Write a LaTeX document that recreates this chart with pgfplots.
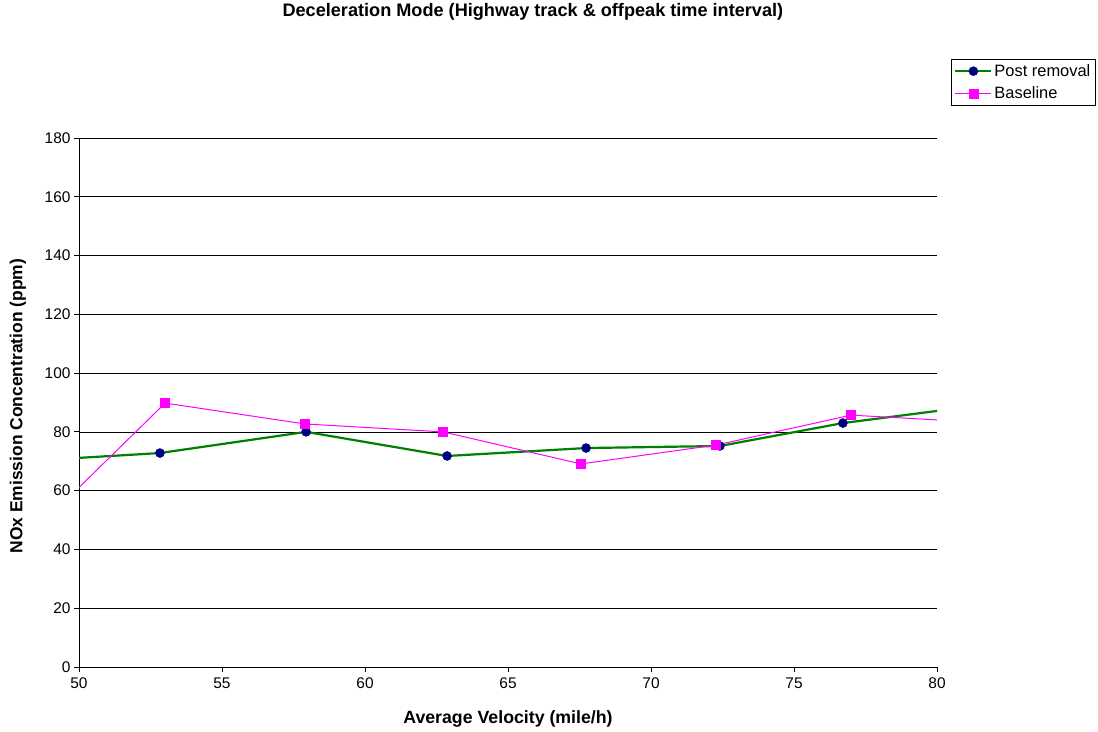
\documentclass[border=0pt]{standalone}
\usepackage{pgfplots}
\pgfplotsset{compat=1.18}
\usepackage{fontspec}
\setmainfont{Liberation Sans}
\definecolor{postgreen}{RGB}{0,128,0}
\definecolor{navymark}{RGB}{0,0,128}
\definecolor{basemag}{RGB}{255,0,255}
\begin{document}
\begin{tikzpicture}
\path[use as bounding box] (0bp,0bp) rectangle (1098bp,732bp);
\begin{axis}[
  at={(79bp,65bp)}, anchor=south west,
  scale only axis, width=858bp, height=529bp,
  xmin=50, xmax=80, ymin=0, ymax=180,
  xtick distance=5, ytick distance=20,
  axis x line*=bottom, axis y line*=left,
  axis line style={black, line width=0.8pt},
  tick align=outside, major tick length=5bp,
  tick style={black, line width=0.8pt},
  ymajorgrids, major grid style={black, line width=0.7pt},
  /pgf/number format/assume math mode=true,
  tick label style={font=\fontsize{15.5}{18}\selectfont},
  xticklabel style={yshift=-2bp},
  title={Deceleration Mode (Highway track \& offpeak time interval)},
  title style={at={(axis description cs:0.529,1.227)}, anchor=center,
    font=\fontsize{18.2}{20}\selectfont\bfseries},
  xlabel={Average Velocity (mile/h)},
  xlabel style={at={(axis description cs:0.5,-0.0983)}, anchor=center,
    font=\fontsize{17.8}{20}\selectfont\bfseries},
  ylabel={NOx Emission Concentration (ppm)},
  ylabel style={at={(axis description cs:-0.0711,0.493)}, anchor=center,
    font=\fontsize{17.5}{20}\selectfont\bfseries},
  legend style={at={(axis description cs:1.0163,1.149)}, anchor=north west,
    draw=black, line width=0.6pt, font=\fontsize{16.5}{19}\selectfont,
    inner xsep=3bp, inner ysep=3bp, row sep=5bp},
  legend cell align=left,
  legend image code/.code={
    \draw[mark repeat=2, mark phase=2] plot coordinates {(0bp,0bp) (18bp,0bp) (36bp,0bp)};},
]
% Post removal series
\addplot[postgreen, line width=2.2bp, mark=*, mark size=4.5bp,
  mark options={fill=navymark, draw=navymark, line width=0.5pt}]
  coordinates {
    (48,70.0) (52.83,72.8) (57.94,80.0) (62.87,71.8) (67.73,74.5)
    (72.41,75.2) (76.71,83.0) (81.5,89.0)
  };
\addlegendentry{Post removal}
% Baseline series
\addplot[basemag, line width=1bp, mark=square*, mark size=4.5bp,
  mark options={fill=basemag, draw=basemag, line width=0.5pt}]
  coordinates {
    (48,42.0) (53.01,89.8) (57.90,82.7) (62.73,80.0) (67.55,69.1)
    (72.27,75.5) (76.99,85.7) (82,83.0)
  };
\addlegendentry{Baseline}
\end{axis}
\end{tikzpicture}
\end{document}
